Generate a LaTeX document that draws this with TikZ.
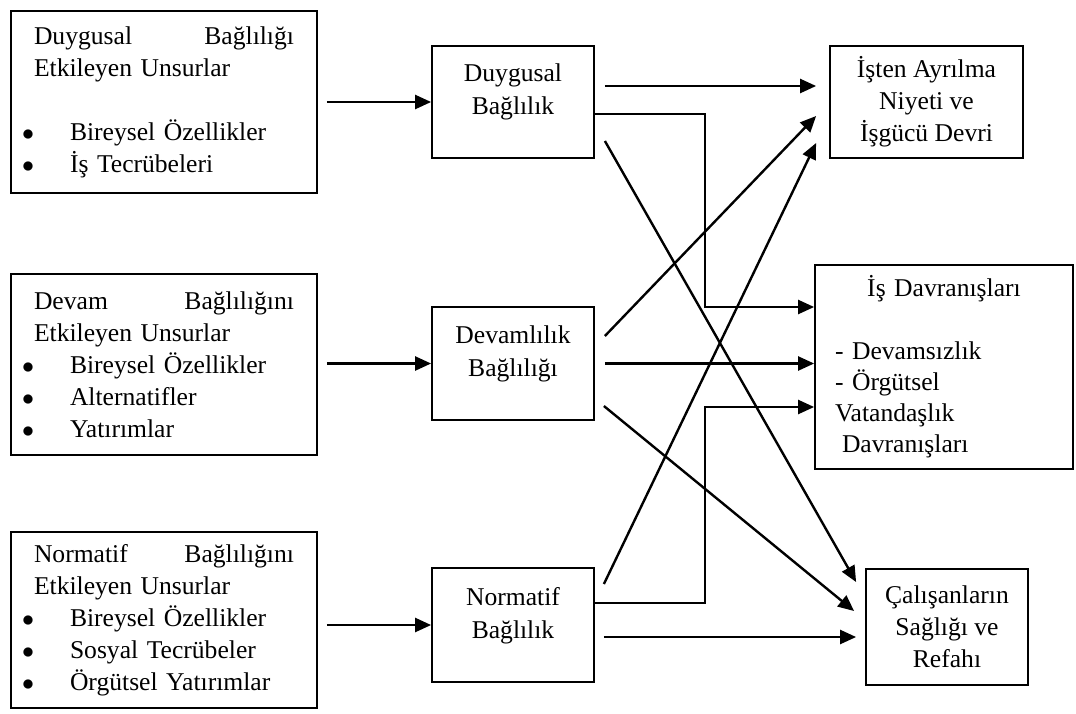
\documentclass[tikz,border=0pt]{standalone}
\usepackage{fontspec}
\setmainfont{Liberation Serif}
\usepackage{tikz}
\usetikzlibrary{arrows.meta, positioning, calc}
\setlength{\parindent}{0pt}

\newcommand{\madde}{\makebox[0pt][r]{$\bullet$\hspace{0pt}}\hspace{18pt}}
\newcommand{\altbosluk}{\rule[-12.5pt]{0pt}{0pt}}

\tikzset{
  kutu/.style={draw, line width=0.9pt, inner sep=0pt},
  solkutu/.style={kutu, text width=130pt, align=left, minimum width=153pt, font=\fontsize{12.8}{16}\selectfont},
  ortakutu/.style={kutu, align=center, minimum width=81pt, font=\fontsize{12.8}{16.5}\selectfont},
  sagkutu/.style={kutu, align=center, font=\fontsize{12.8}{16}\selectfont},
  ok/.style={-{Triangle[length=8pt, width=7pt]}, line width=1.2pt}
}

\begin{document}
\begin{tikzpicture}[x=0.5pt, y=-0.5pt]
\useasboundingbox (0,0) rectangle (1076,713);

% KATMAN 1: Sol kutular (etkileyen unsurlar)
\node[solkutu, minimum height=91pt] (sol1) at (164,102) {Duygusal\hfill Bağlılığı\\ Etkileyen Unsurlar\\[16pt] \madde Bireysel Özellikler\\ \madde İş Tecrübeleri};
\node[solkutu, minimum height=90.5pt] (sol2) at (164,364.5) {Devam\hfill Bağlılığını\\ Etkileyen Unsurlar\\ \madde Bireysel Özellikler\\ \madde Alternatifler\\ \madde Yatırımlar};
\node[solkutu, minimum height=88pt] (sol3) at (164,620) {Normatif\hfill Bağlılığını\\ Etkileyen Unsurlar\\ \madde Bireysel Özellikler\\ \madde Sosyal Tecrübeler\\ \madde Örgütsel Yatırımlar};

% KATMAN 2: Orta kutular (bağlılık türleri)
\node[ortakutu, minimum height=56pt] (db) at (513,102) {Duygusal\\ Bağlılık\altbosluk};
\node[ortakutu, minimum height=56.5pt] (dv) at (513,363.5) {Devamlılık\\ Bağlılığı\altbosluk};
\node[ortakutu, minimum height=57pt] (nb) at (513,625) {Normatif\\ Bağlılık\altbosluk};

% KATMAN 3: Sağ kutular (sonuçlar)
\node[sagkutu, minimum width=96.5pt, minimum height=56pt] (ia) at (926.5,102) {İşten Ayrılma\\ Niyeti ve\\ İşgücü Devri};
\node[kutu, text width=109pt, inner xsep=10pt, minimum height=102pt, align=left, font=\fontsize{12.8}{15.5}\selectfont] (id) at (944,367) {\makebox[\hsize]{İş Davranışları}\\[16pt] - Devamsızlık\\ - Örgütsel\\ Vatandaşlık\\ \hspace*{3.5pt}Davranışları};
\node[sagkutu, minimum width=81pt, minimum height=58pt] (cs) at (947,627) {Çalışanların\\ Sağlığı ve\\ Refahı};

% KATMAN 4: Oklar
\draw[ok] ($(sol1.east |- db.west)+(9,0)$) -- (db.west);
\draw[ok] ($(sol2.east |- dv.west)+(9,0)$) -- (dv.west);
\draw[ok] ($(sol3.east |- nb.west)+(9,0)$) -- (nb.west);

% duygusal bağlılıktan
\draw[ok] ($(db.east)+(10,-16)$) -- ($(ia.west)+(-13,-16)$);
\draw[ok] ($(db.east)+(0,12)$) -- ++(110,0) |- ($(id.west)+(0,-60)$);
\draw[ok] ($(db.east)+(10,39)$) -- ($(cs.west)+(-9,-45)$);

% devamlılık bağlılığından
\draw[ok] ($(dv.east)+(10,-27.5)$) -- ($(ia.west)+(-13,14)$);
\draw[ok] ($(dv.east)+(10,0)$) -- (dv.east -| id.west);
\draw[ok] ($(dv.east)+(9,42.5)$) -- ($(cs.west)+(-11,-16)$);

% normatif bağlılıktan
\draw[ok] ($(nb.east)+(9,-41)$) -- ($(ia.west)+(-13,41)$);
\draw[ok] ($(nb.east)+(0,-22)$) -- ++(110,0) |- ($(id.west)+(0,40)$);
\draw[ok] ($(nb.east)+(9,12)$) -- ($(cs.west)+(-9,10)$);
\end{tikzpicture}
\end{document}
